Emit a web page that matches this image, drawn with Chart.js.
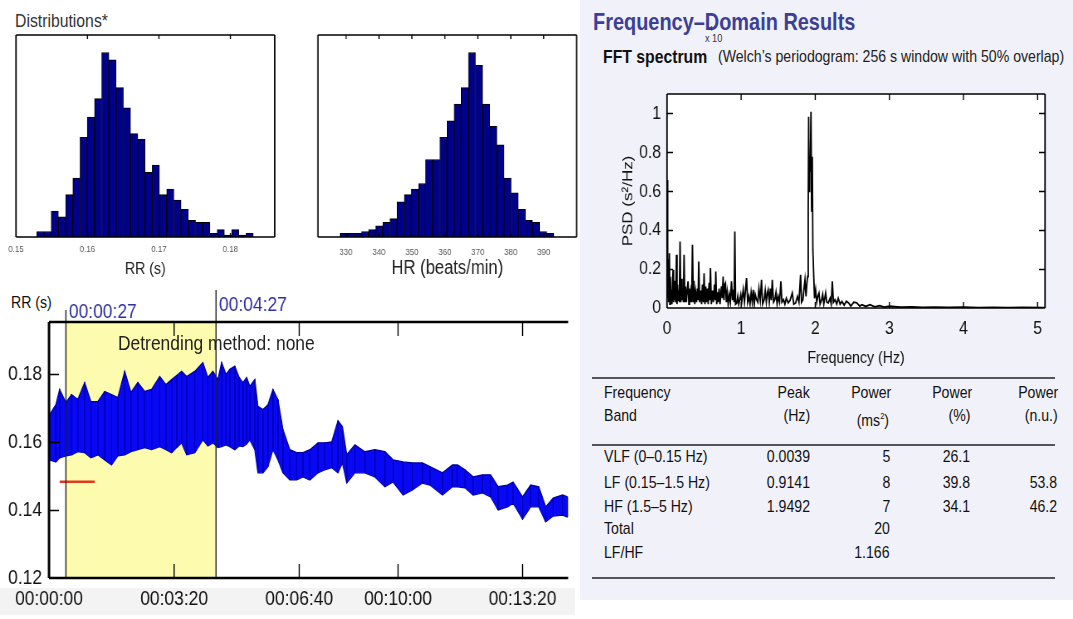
<!DOCTYPE html>
<html>
<head>
<meta charset="utf-8">
<script src="https://cdn.jsdelivr.net/npm/chart.js@4.4.1/dist/chart.umd.min.js"></script>
<style>
  body { margin: 0; width: 1073px; height: 619px; position: relative; overflow: hidden; background: #fff;
         font-family: "Liberation Sans", Arial, sans-serif; }
  canvas { position: absolute; transform-origin: 0 0; }
  .t { position: absolute; white-space: nowrap; line-height: 1; color: #111;
       transform: scaleX(0.83); transform-origin: left top; }
  .r { text-align: right; transform-origin: right top; }
  #rightPanel { position: absolute; left: 580px; top: 0; width: 493px; height: 600px; background: #f1f1f9; }
  #labelStrip { position: absolute; left: 0; top: 588px; width: 575px; height: 27px; background: #f3f3f3; }
  .rule { position: absolute; left: 592px; width: 463px; height: 2px; background: #555; }
</style>
</head>
<body>
<div id="rightPanel"></div>
<div id="labelStrip"></div>

<div class="t" style="left:15px;top:11px;font-size:19px;color:#333">Distributions*</div>
<canvas id="rrHist"></canvas>
<canvas id="hrHist"></canvas>

<div class="t" style="left:11px;top:294px;font-size:17px">RR (s)</div>
<canvas id="rrSeries"></canvas>
<div class="t" style="left:118px;top:332px;font-size:21px;color:#222">Detrending method: none</div>

<div class="t" style="left:593px;top:10px;font-size:24px;font-weight:bold;color:#3c3f96">Frequency–Domain Results</div>
<div class="t" style="left:603px;top:47px;font-size:19px;font-weight:bold">FFT spectrum</div>
<div class="t" style="left:718px;top:48px;font-size:17px;color:#222">(Welch’s periodogram: 256 s window with 50% overlap)</div>
<div class="t" style="left:705px;top:33px;font-size:11px;color:#333">x 10</div>
<div class="t" style="left:709px;top:25px;font-size:8px;color:#333">4</div>
<canvas id="fft"></canvas>

<div class="rule" style="top:377px"></div>
<div class="rule" style="top:444px"></div>
<div class="rule" style="top:577px"></div>
<div id="table"></div>

<script>
// RR interval histogram (bin counts, peak bin = 100)
const rrBinStart = 0.1529;
const rrBinWidth = 0.00101;
const rrCounts = [3, 3, 14, 11, 23, 32, 54, 65, 75, 100, 96, 81, 70, 56, 53, 35, 39, 23, 26, 20, 15, 9, 8, 8, 2, 4, 1, 4, 1, 2];
const rrTicks = [0.15, 0.16, 0.17, 0.18];

// heart rate histogram
const hrBinStart = 328.2;
const hrBinWidth = 2.163;
const hrCounts = [2, 2, 2, 3, 4, 6, 8, 10, 19, 23, 26, 29, 42, 42, 54, 63, 72, 81, 100, 93, 72, 60, 50, 32, 24, 15, 9, 8, 3, 2];
const hrTicks = [330, 340, 350, 360, 370, 380, 390];

// RR series: time (s) with the upper and lower edge of the trace (s)
const rrTime = [1, 11, 17, 27, 36, 46, 57, 67, 78, 89, 100, 110, 121, 131, 142, 153, 164, 177, 187, 196,
  204, 212, 220, 233, 246, 254, 262, 270, 276, 283, 289, 297, 304, 310, 316, 321, 329, 334, 342, 350,
  358, 366, 374, 385, 396, 406, 417, 430, 441, 452, 462, 469, 476, 489, 505, 521, 537, 550, 566, 581,
  597, 609, 629, 645, 653, 665, 678, 693, 706, 718, 733, 742, 757, 770, 783, 794, 806, 821, 829];
const rrHigh = [0.1680, 0.1709, 0.1754, 0.1715, 0.1739, 0.1724, 0.1774, 0.1718, 0.1718, 0.1748,
  0.1739, 0.1730, 0.1807, 0.1745, 0.1774, 0.1748, 0.1754, 0.1792, 0.1768, 0.1783,
  0.1795, 0.1807, 0.1792, 0.1807, 0.1833, 0.1789, 0.1807, 0.1783, 0.1833, 0.1798,
  0.1813, 0.1822, 0.1789, 0.1774, 0.1789, 0.1763, 0.1783, 0.1704, 0.1695, 0.1709,
  0.1754, 0.1724, 0.1636, 0.1577, 0.1568, 0.1568, 0.1577, 0.1597, 0.1597, 0.1600,
  0.1662, 0.1645, 0.1562, 0.1591, 0.1571, 0.1577, 0.1571, 0.1547, 0.1541, 0.1538,
  0.1538, 0.1527, 0.1509, 0.1532, 0.1532, 0.1518, 0.1497, 0.1503, 0.1503, 0.1468,
  0.1473, 0.1482, 0.1438, 0.1473, 0.1468, 0.1409, 0.1435, 0.1444, 0.1438];
const rrLow = [0.1547, 0.1541, 0.1553, 0.1559, 0.1562, 0.1571, 0.1568, 0.1553, 0.1562, 0.1547,
  0.1532, 0.1559, 0.1562, 0.1571, 0.1577, 0.1583, 0.1577, 0.1586, 0.1577, 0.1568,
  0.1583, 0.1597, 0.1562, 0.1568, 0.1606, 0.1588, 0.1597, 0.1583, 0.1586, 0.1591,
  0.1586, 0.1577, 0.1588, 0.1586, 0.1594, 0.1606, 0.1577, 0.1509, 0.1509, 0.1527,
  0.1577, 0.1547, 0.1509, 0.1488, 0.1488, 0.1497, 0.1488, 0.1509, 0.1518, 0.1524,
  0.1509, 0.1538, 0.1479, 0.1509, 0.1509, 0.1497, 0.1468, 0.1482, 0.1444, 0.1459,
  0.1479, 0.1473, 0.1444, 0.1468, 0.1468, 0.1465, 0.1444, 0.1450, 0.1438, 0.1400,
  0.1409, 0.1420, 0.1373, 0.1409, 0.1409, 0.1365, 0.1382, 0.1385, 0.1379];
const rrRangeTicks = [0.12, 0.14, 0.16, 0.18];
const timeTickPos = [0, 200, 400, 558, 757];
const timeTickLabels = ['00:00:00', '00:03:20', '00:06:40', '00:10:00', '00:13:20'];
const analysisWindow = [27, 267];
const windowLabels = ['00:00:27', '00:04:27'];
const markTime = [17, 73];
const markRR = [0.1483, 0.1483];

// Welch PSD (x 10^-4 s^2/Hz)
const fftFreq = [
  0, 0.004, 0.009, 0.014, 0.019, 0.025, 0.032, 0.038, 0.045, 0.052,
  0.059, 0.066, 0.074, 0.082, 0.088, 0.094, 0.100, 0.108, 0.116, 0.127,
  0.135, 0.142, 0.149, 0.158, 0.166, 0.176, 0.186, 0.194, 0.203, 0.213,
  0.221, 0.23, 0.24, 0.25, 0.262, 0.272, 0.284, 0.295, 0.303, 0.311,
  0.322, 0.333, 0.343, 0.355, 0.364, 0.374, 0.386, 0.398, 0.41, 0.42,
  0.428, 0.44, 0.455, 0.466, 0.478, 0.49, 0.5, 0.512, 0.522, 0.532,
  0.545, 0.556, 0.568, 0.576, 0.586, 0.598, 0.613, 0.625, 0.64, 0.65,
  0.658, 0.67, 0.68, 0.69, 0.703, 0.715, 0.725, 0.735, 0.745, 0.757,
  0.768, 0.779, 0.789, 0.8, 0.812, 0.825, 0.84, 0.855, 0.87, 0.884,
  0.897, 0.906, 0.915, 0.925, 0.942, 0.955, 0.968, 0.982, 0.995, 1.008,
  1.028, 1.045, 1.06, 1.073, 1.088, 1.104, 1.12, 1.135, 1.15, 1.163,
  1.178, 1.19, 1.208, 1.225, 1.24, 1.258, 1.275, 1.29, 1.311, 1.325,
  1.34, 1.355, 1.365, 1.38, 1.395, 1.408, 1.42, 1.437, 1.455, 1.47,
  1.485, 1.5, 1.518, 1.536, 1.55, 1.572, 1.59, 1.61, 1.635, 1.66,
  1.69, 1.71, 1.735, 1.76, 1.78, 1.802, 1.815, 1.834, 1.848, 1.861,
  1.875, 1.888, 1.897, 1.905, 1.911, 1.918, 1.924, 1.933, 1.942, 1.951,
  1.96, 1.968, 1.978, 1.99, 2.005, 2.02, 2.035, 2.05, 2.065, 2.086,
  2.1, 2.115, 2.14, 2.155, 2.176, 2.2, 2.215, 2.23, 2.245, 2.266,
  2.29, 2.31, 2.335, 2.36, 2.39, 2.42, 2.45, 2.48, 2.52, 2.56,
  2.6, 2.63, 2.68, 2.74, 2.8, 2.87, 2.93, 3.0, 3.15, 3.3,
  3.45, 3.6, 3.8, 4.0, 4.2, 4.4, 4.6, 4.8, 5.1];
const fftPsd = [
  0.10, 0.658, 0.05, 0.25, 0.03, 0.2, 0.282, 0.02, 0.16, 0.03,
  0.094, 0.02, 0.13, 0.197, 0.03, 0.11, 0.043, 0.14, 0.03, 0.274,
  0.02, 0.12, 0.04, 0.09, 0.03, 0.342, 0.03, 0.15, 0.04, 0.1,
  0.03, 0.274, 0.03, 0.11, 0.03, 0.09, 0.137, 0.02, 0.1, 0.03,
  0.08, 0.03, 0.325, 0.03, 0.14, 0.02, 0.08, 0.03, 0.1, 0.04,
  0.239, 0.03, 0.09, 0.02, 0.12, 0.03, 0.179, 0.02, 0.11, 0.03,
  0.1, 0.02, 0.13, 0.04, 0.205, 0.02, 0.09, 0.03, 0.12, 0.04,
  0.188, 0.02, 0.08, 0.03, 0.1, 0.02, 0.07, 0.111, 0.05, 0.162,
  0.04, 0.12, 0.128, 0.03, 0.08, 0.02, 0.07, 0.03, 0.137, 0.04,
  0.094, 0.03, 0.393, 0.02, 0.026, 0.06, 0.02, 0.043, 0.07, 0.03,
  0.094, 0.03, 0.1, 0.154, 0.03, 0.06, 0.02, 0.08, 0.03, 0.094,
  0.02, 0.07, 0.043, 0.03, 0.1, 0.04, 0.145, 0.02, 0.043, 0.09,
  0.03, 0.08, 0.094, 0.03, 0.1, 0.04, 0.145, 0.03, 0.043, 0.08,
  0.02, 0.06, 0.03, 0.137, 0.03, 0.043, 0.02, 0.05, 0.026, 0.04,
  0.077, 0.02, 0.026, 0.06, 0.03, 0.171, 0.03, 0.043, 0.1, 0.145,
  0.06, 0.13, 0.162, 0.5, 0.983, 0.6, 0.778, 0.7, 1.009, 0.5,
  0.778, 0.3, 0.18, 0.05, 0.094, 0.03, 0.06, 0.077, 0.02, 0.043,
  0.07, 0.02, 0.077, 0.03, 0.026, 0.05, 0.02, 0.137, 0.03, 0.043,
  0.02, 0.05, 0.02, 0.034, 0.015, 0.035, 0.026, 0.01, 0.03, 0.026,
  0.01, 0.017, 0.008, 0.017, 0.006, 0.012, 0.005, 0.009, 0.004, 0.006,
  0.003, 0.005, 0.003, 0.004, 0.002, 0.003, 0.002, 0.003, 0.002];
const fftFreqTicks = [0, 1, 2, 3, 4, 5];
const fftPsdTicks = [0, 0.2, 0.4, 0.6, 0.8, 1];

// frequency band table
const bandNames = ['VLF (0–0.15 Hz)', 'LF (0.15–1.5 Hz)', 'HF (1.5–5 Hz)', 'Total', 'LF/HF'];
const bandPeak = ['0.0039', '0.9141', '1.9492', '', ''];
const bandPower = ['5', '8', '7', '20', '1.166'];
const bandPercent = ['26.1', '39.8', '34.1', '', ''];
const bandNu = ['', '53.8', '46.2', '', ''];

// the whole figure is drawn narrow: canvases are laid out wider and squeezed back horizontally
const SQ = 0.83;
const sx = v => v / SQ;
function place(id, left, top, w, h) {
  const c = document.getElementById(id);
  c.width = Math.round(w / SQ);
  c.height = h;
  c.style.left = left + 'px';
  c.style.top = top + 'px';
  c.style.width = Math.round(w / SQ) + 'px';
  c.style.height = h + 'px';
  c.style.transform = 'scaleX(' + SQ + ')';
  return c;
}

const FONT = '"Liberation Sans", Arial, sans-serif';
Chart.defaults.font.family = FONT;
Chart.defaults.color = '#000';
Chart.defaults.animation = false;
Chart.defaults.events = [];
Chart.defaults.plugins.legend.display = false;
Chart.defaults.plugins.tooltip.enabled = false;

// box outline with short inward ticks, matlab style
const frame = {
  id: 'frame',
  beforeDraw(chart, args, o) {
    if (!o.fill) return;
    const a = chart.chartArea;
    chart.ctx.save();
    chart.ctx.fillStyle = o.fill;
    chart.ctx.fillRect(a.left, a.top, a.right - a.left, a.bottom - a.top);
    chart.ctx.restore();
  },
  afterDatasetsDraw(chart, args, o) {
    const { ctx, chartArea: a, scales: { x, y } } = chart;
    ctx.save();
    ctx.strokeStyle = '#000';
    ctx.lineWidth = 1.4;
    ctx.beginPath();
    x.ticks.forEach(t => {
      if (t.value <= x.min || t.value >= x.max) return;
      const px = x.getPixelForValue(t.value);
      ctx.moveTo(px, a.bottom); ctx.lineTo(px, a.bottom - o.xLen);
      ctx.moveTo(px, a.top); ctx.lineTo(px, a.top + o.xLen);
    });
    if (o.yLen) {
      y.ticks.forEach(t => {
        if (t.value <= y.min || t.value >= y.max) return;
        const py = Math.round(y.getPixelForValue(t.value)) + 0.5;
        ctx.moveTo(a.left, py); ctx.lineTo(a.left + o.yLen, py);
        if (o.sides.includes('r')) { ctx.moveTo(a.right, py); ctx.lineTo(a.right - o.yLen, py); }
      });
    }
    ctx.stroke();
    ctx.lineWidth = o.lineWidth;
    ctx.beginPath();
    if (o.sides.includes('t')) { ctx.moveTo(a.left, a.top); ctx.lineTo(a.right, a.top); }
    if (o.sides.includes('b')) { ctx.moveTo(a.left, a.bottom); ctx.lineTo(a.right, a.bottom); }
    ctx.stroke();
    ctx.lineWidth = o.lineWidth / SQ;
    ctx.beginPath();
    if (o.sides.includes('l')) { ctx.moveTo(a.left, a.top); ctx.lineTo(a.left, a.bottom); }
    if (o.sides.includes('r')) { ctx.moveTo(a.right, a.top); ctx.lineTo(a.right, a.bottom); }
    ctx.stroke();
    ctx.restore();
  }
};

function histogram(id, left, counts, start, width, ticks, min, max, pad, labelPad, title, titleSize) {
  return new Chart(place(id, left, 25, 290, 260), {
    type: 'bar',
    data: {
      datasets: [{
        data: counts.map((c, i) => ({ x: start + (i + 0.5) * width, y: c })),
        backgroundColor: '#00008a',
        borderColor: '#000',
        borderWidth: 1,
        barPercentage: 1,
        categoryPercentage: 1,
        grouped: false
      }]
    },
    options: {
      responsive: false,
      layout: { padding: { left: sx(pad[0]), right: sx(pad[1]), top: 10, bottom: 0 } },
      scales: {
        x: {
          type: 'linear', offset: false, min: min, max: max,
          afterBuildTicks: s => { s.ticks = ticks.map(v => ({ value: v })); },
          afterFit: s => { s.height = 48; },
          grid: { display: false, drawTicks: false },
          border: { display: false },
          ticks: { font: { size: 9.5 }, color: '#555', padding: labelPad, autoSkip: false, maxRotation: 0,
                   callback: v => (v < 1 ? v.toFixed(2) : String(v)) },
          title: { display: true, text: title, font: { size: titleSize }, color: '#222', padding: { bottom: 5 } }
        },
        y: { display: false, min: 0, max: 109.5 }
      },
      plugins: { frame: { sides: 'ltrb', lineWidth: 1.5, xLen: 4, yLen: 0 } }
    },
    plugins: [frame]
  });
}

histogram('rrHist', 0, rrCounts, rrBinStart, rrBinWidth, rrTicks, 0.15, 0.1862, [16, 15], 7, 'RR (s)', 17);
histogram('hrHist', 290, hrCounts, hrBinStart, hrBinWidth, hrTicks, 321.5, 400, [28, 3], 10, 'HR (beats/min)', 20);

// analysis window shading plus its two markers
const windowMarks = {
  id: 'windowMarks',
  beforeDatasetsDraw(chart) {
    const { ctx, chartArea: a, scales: { x } } = chart;
    const x0 = x.getPixelForValue(analysisWindow[0]);
    const x1 = x.getPixelForValue(analysisWindow[1]);
    ctx.save();
    ctx.fillStyle = '#fdfbae';
    ctx.fillRect(x0, a.top, x1 - x0, a.bottom - a.top);
    ctx.restore();
  },
  afterDatasetsDraw(chart) {
    const { ctx, chartArea: a, scales: { x } } = chart;
    const rise = [12, 32];
    const lift = [4, 11];
    ctx.save();
    ctx.strokeStyle = '#222';
    ctx.lineWidth = 1.4;
    ctx.fillStyle = '#2e2ea2';
    ctx.font = '21px ' + FONT;
    analysisWindow.forEach((t, i) => {
      const px = x.getPixelForValue(t);
      ctx.beginPath();
      ctx.moveTo(px, a.top - rise[i]);
      ctx.lineTo(px, a.bottom);
      ctx.stroke();
      ctx.fillText(windowLabels[i], px + sx(3), a.top - lift[i]);
    });
    ctx.restore();
  }
};

// one short vertical stroke per sample, from the low edge to the high edge
const strokes = [];
rrTime.forEach((t, i) => { strokes.push({ x: t, y: rrHigh[i] }, { x: t, y: rrLow[i] }, { x: t, y: null }); });

// lower "order" draws on top: marker, then the strokes, then the filled envelope
new Chart(place('rrSeries', 0, 285, 580, 334), {
  type: 'line',
  data: {
    datasets: [
      { data: rrTime.map((t, i) => ({ x: t, y: rrLow[i] })), order: 4, borderWidth: 1.3, borderColor: '#00009c',
        pointRadius: 0, fill: false },
      { data: rrTime.map((t, i) => ({ x: t, y: rrHigh[i] })), order: 3, borderWidth: 1.3, borderColor: '#00009c',
        backgroundColor: '#0808f4', pointRadius: 0, fill: 0 },
      { data: strokes, order: 2, borderWidth: 1, borderColor: '#0000b4', pointRadius: 0, fill: false, spanGaps: false },
      { data: markTime.map((t, i) => ({ x: t, y: markRR[i] })), order: 1, borderWidth: 2.5, borderColor: '#e2381c',
        pointRadius: 0, fill: false }
    ]
  },
  options: {
    responsive: false,
    layout: { padding: { left: 0, right: sx(12), top: 37, bottom: 0 } },
    scales: {
      x: {
        type: 'linear', min: 0, max: 830,
        afterBuildTicks: s => { s.ticks = timeTickPos.map(v => ({ value: v })); },
        afterFit: s => { s.height = 41; },
        grid: { display: false, drawTicks: false },
        border: { display: false },
        ticks: { font: { size: 21 }, color: '#111', padding: 9, autoSkip: false, maxRotation: 0,
                 callback: (v, i) => timeTickLabels[i] }
      },
      y: {
        min: 0.12, max: 0.1952,
        afterBuildTicks: s => { s.ticks = rrRangeTicks.map(v => ({ value: v })); },
        afterFit: s => { s.width = sx(49); },
        grid: { display: false, drawTicks: false },
        border: { display: false },
        ticks: { font: { size: 21 }, color: '#111', padding: sx(7), callback: v => v.toFixed(2) }
      }
    },
    plugins: { frame: { sides: 'ltb', lineWidth: 2.5, xLen: 14, yLen: sx(10) } }
  },
  plugins: [windowMarks, frame]
});

new Chart(place('fft', 580, 75, 493, 295), {
  type: 'line',
  data: {
    datasets: [{
      data: fftFreq.map((f, i) => ({ x: f, y: fftPsd[i] })),
      borderColor: '#000', borderWidth: 1.8, pointRadius: 0, fill: false, tension: 0
    }]
  },
  options: {
    responsive: false,
    layout: { padding: { left: 0, right: sx(28), top: 19, bottom: 0 } },
    scales: {
      x: {
        type: 'linear', min: 0, max: 5.1,
        afterBuildTicks: s => { s.ticks = fftFreqTicks.map(v => ({ value: v })); },
        afterFit: s => { s.height = 62; },
        grid: { display: false, drawTicks: false },
        border: { display: false },
        ticks: { font: { size: 19 }, color: '#111', padding: 9, autoSkip: false, maxRotation: 0 },
        title: { display: true, text: 'Frequency (Hz)', font: { size: 17 }, color: '#111', padding: { bottom: 1 } }
      },
      y: {
        min: 0, max: 1.1,
        afterBuildTicks: s => { s.ticks = fftPsdTicks.map(v => ({ value: v })); },
        afterFit: s => { s.width = sx(87); },
        grid: { display: false, drawTicks: false },
        border: { display: false },
        ticks: { font: { size: 19 }, color: '#111', padding: sx(6), callback: v => String(Math.round(v * 10) / 10) },
        title: { display: true, text: 'PSD (s²/Hz)', font: { size: 17 }, color: '#111', padding: { top: sx(48) - 10.2 } }
      }
    },
    plugins: { frame: { sides: 'ltrb', lineWidth: 1.5, xLen: 6, yLen: sx(6), fill: '#fff' } }
  },
  plugins: [frame]
});

// band table as positioned text
const table = document.getElementById('table');
function cell(text, x, y, right) {
  const d = document.createElement('div');
  d.className = 't' + (right ? ' r' : '');
  d.style.fontSize = '17px';
  d.style.top = y + 'px';
  if (right) { d.style.right = (1073 - x) + 'px'; } else { d.style.left = x + 'px'; }
  d.innerHTML = text;
  table.appendChild(d);
}
cell('Frequency', 604, 384);
cell('Band', 604, 407);
cell('Peak', 810, 384, true);
cell('(Hz)', 810, 407, true);
cell('Power', 891, 384, true);
cell('(ms<sup style="font-size:9px">2</sup>)', 889, 412, true);
cell('Power', 972, 384, true);
cell('(%)', 970, 407, true);
cell('Power', 1058, 384, true);
cell('(n.u.)', 1058, 407, true);
const rowTop = [448, 474, 498, 520, 544];
bandNames.forEach((name, i) => {
  cell(name, 604, rowTop[i]);
  cell(bandPeak[i], 810, rowTop[i], true);
  cell(bandPower[i], 890, rowTop[i], true);
  cell(bandPercent[i], 970, rowTop[i], true);
  cell(bandNu[i], 1057, rowTop[i], true);
});
</script>
</body>
</html>
